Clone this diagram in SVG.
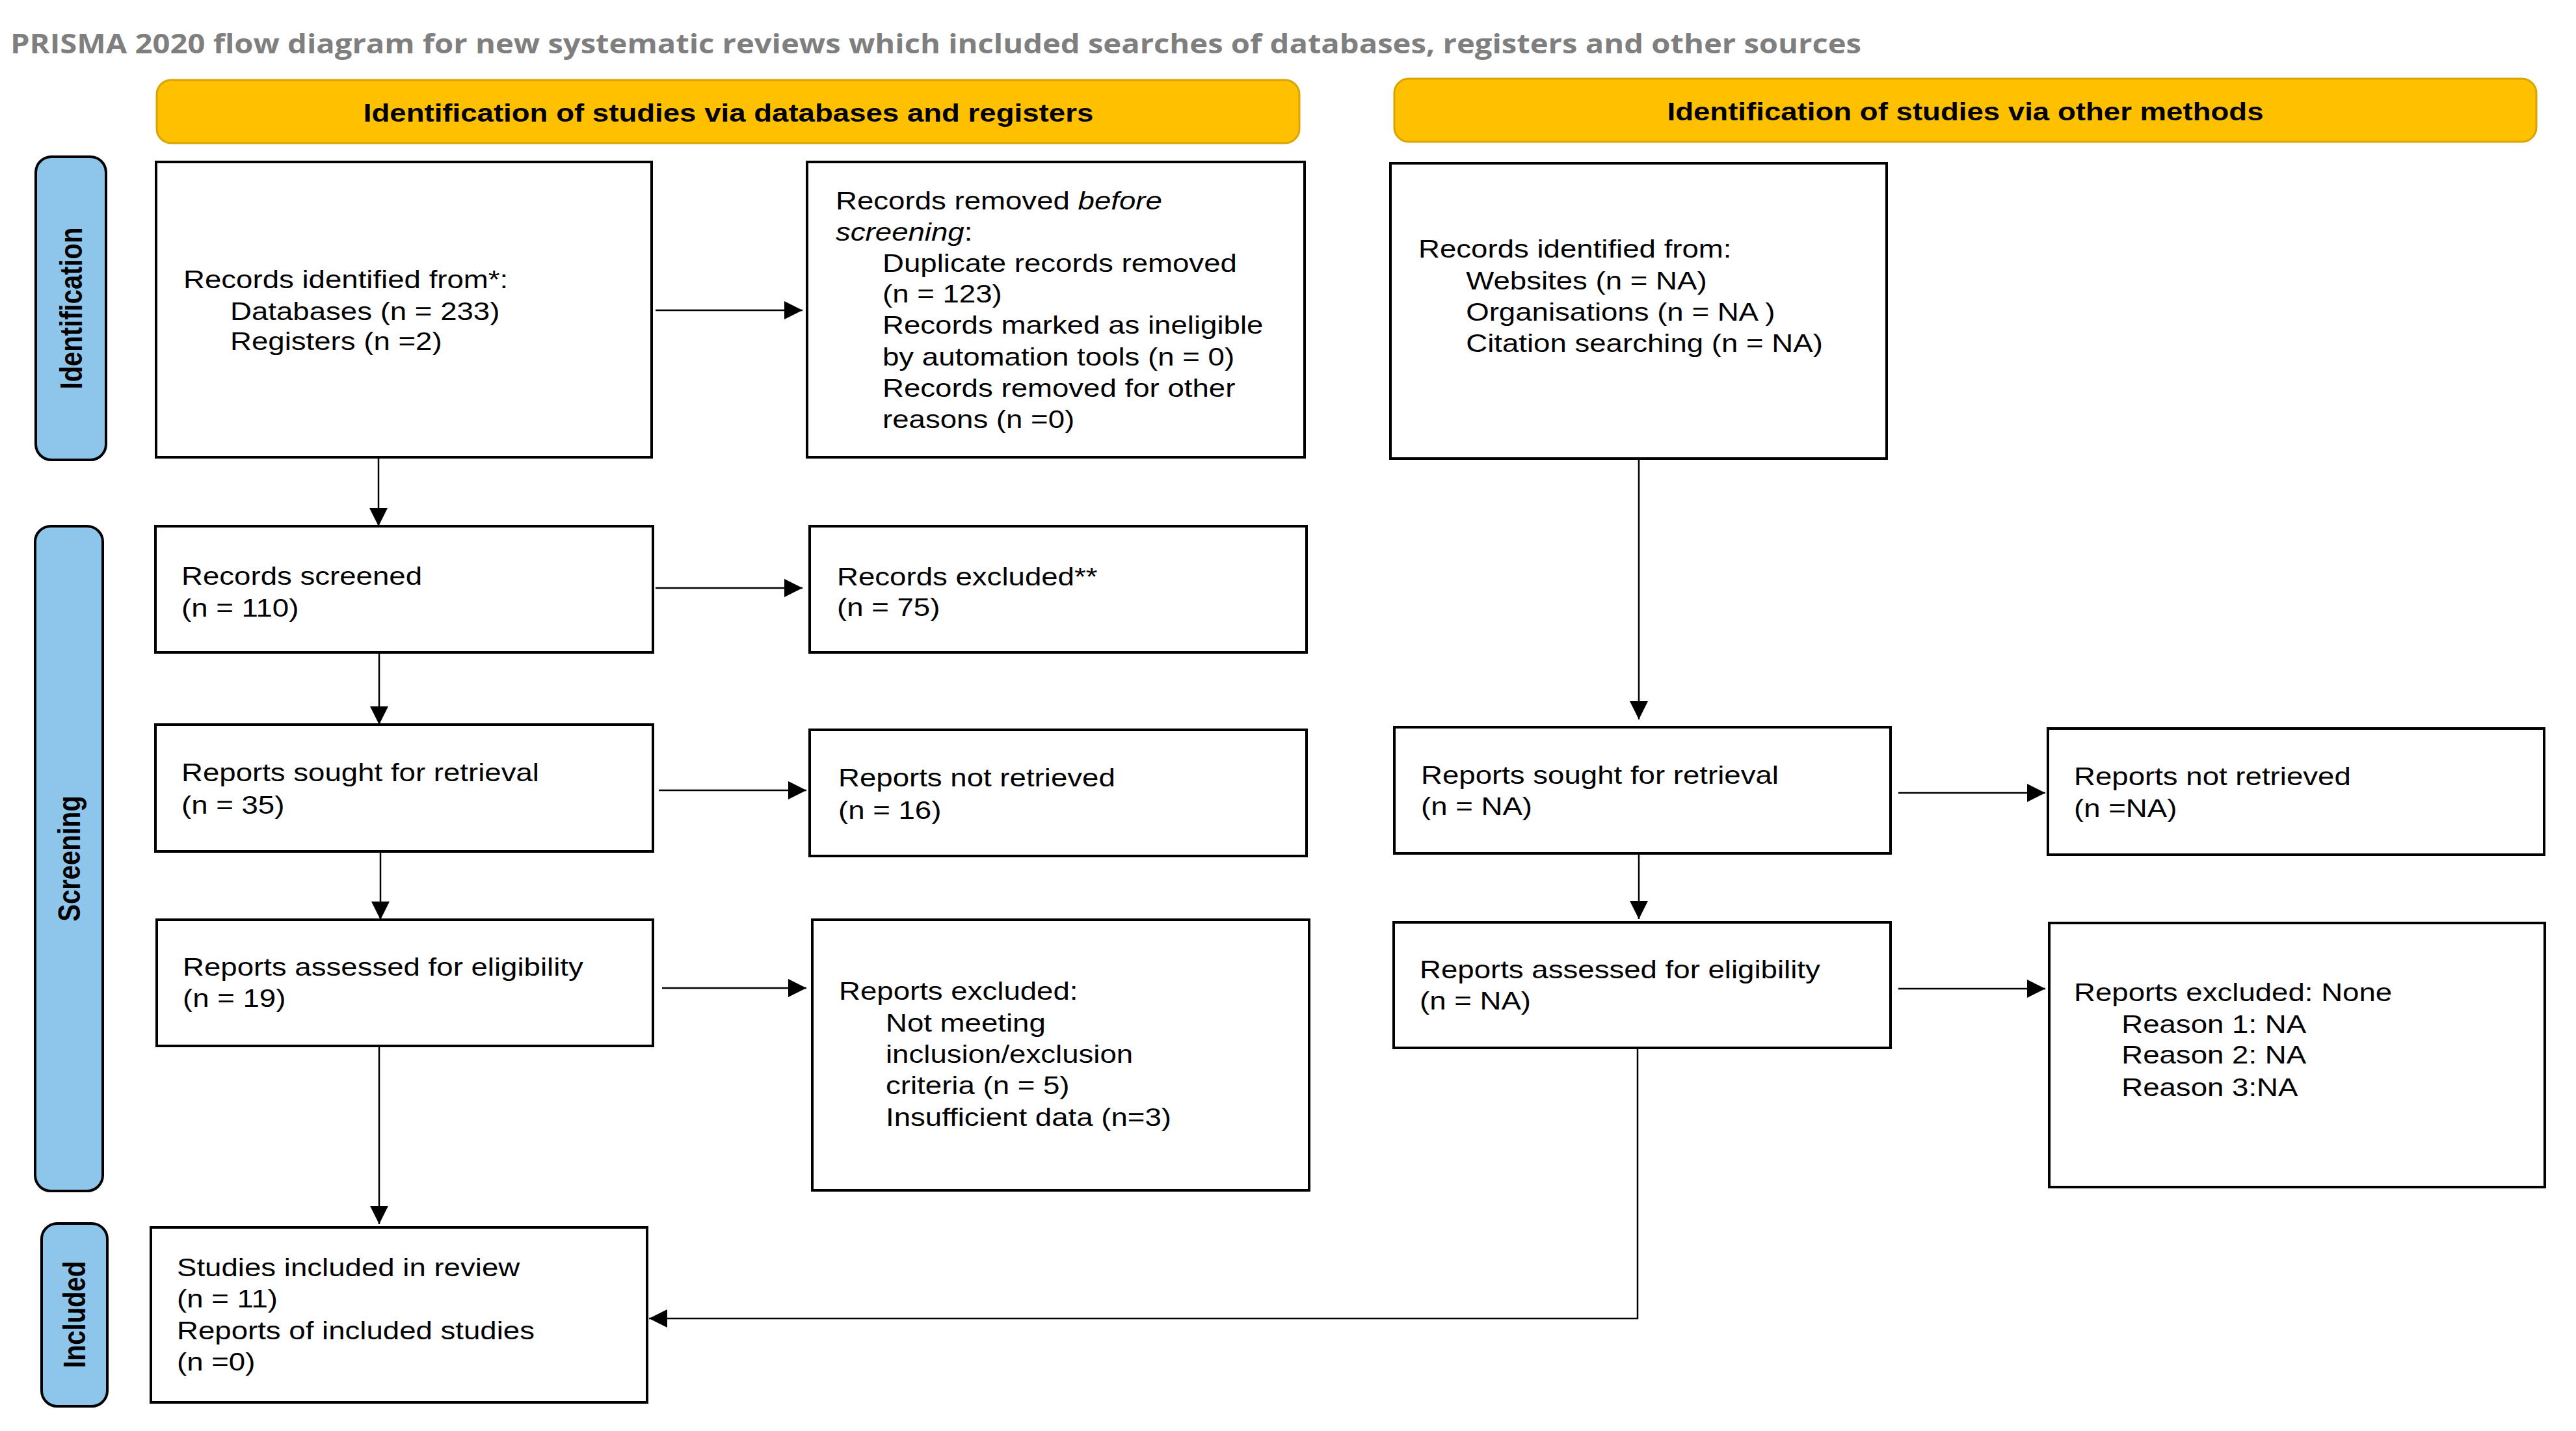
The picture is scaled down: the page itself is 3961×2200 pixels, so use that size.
<svg xmlns="http://www.w3.org/2000/svg" width="3961" height="2200" viewBox="0 0 3961 2200">
<style>
.bg{fill:#fff}
.box{fill:#fff;stroke:#000;stroke-width:4}
.hdr{fill:#FFC000;stroke:#D9A400;stroke-width:3}
.side{fill:#8EC5EB;stroke:#000;stroke-width:4}
.t{font-family:"Liberation Sans",Arial,sans-serif;font-size:38px;fill:#000}
.ht{font-family:"Liberation Sans",Arial,sans-serif;font-size:38px;font-weight:bold;fill:#000}
.st{font-family:"Liberation Sans",Arial,sans-serif;font-size:40px;font-weight:bold;fill:#000}
.title{font-family:"Open Sans","Liberation Sans",sans-serif;font-size:42px;font-weight:bold;fill:#7F7F7F}
.c{fill:none;stroke:#000;stroke-width:2.5}
.ca{fill:none;stroke:#000;stroke-width:2.5;marker-end:url(#ah)}
</style>
<defs>
<marker id="ah" markerUnits="userSpaceOnUse" markerWidth="28" markerHeight="28" refX="28" refY="14" orient="auto">
<path d="M0,0 L28,14 L0,28 z" fill="#000"/>
</marker>
</defs>
<rect class="bg" x="0" y="0" width="3961" height="2200"/>
<text id="title" class="title" x="16" y="82" textLength="2846" lengthAdjust="spacingAndGlyphs">PRISMA 2020 flow diagram for new systematic reviews which included searches of databases, registers and other sources</text>

<g id="header-db">
<rect class="hdr" x="241" y="123" width="1757" height="97" rx="22"/>
<text class="ht" transform="matrix(1.2 0 0 1 1120 187)" x="0" y="0" text-anchor="middle">Identification of studies via databases and registers</text>
</g>
<g id="header-other">
<rect class="hdr" x="2144" y="121" width="1756" height="97" rx="22"/>
<text class="ht" transform="matrix(1.2 0 0 1 3022 185)" x="0" y="0" text-anchor="middle">Identification of studies via other methods</text>
</g>

<g id="side-identification">
<rect class="side" x="55" y="241" width="108" height="466" rx="24"/>
<text class="st" transform="translate(126,474) rotate(-90) scale(1,1.2)" x="0" y="0" text-anchor="middle">Identification</text>
</g>
<g id="side-screening">
<rect class="side" x="54" y="809" width="104" height="1022" rx="24"/>
<text class="st" transform="translate(123,1320) rotate(-90) scale(1,1.2)" x="0" y="0" text-anchor="middle">Screening</text>
</g>
<g id="side-included">
<rect class="side" x="64" y="1881" width="101" height="281" rx="24"/>
<text class="st" transform="translate(131,2021) rotate(-90) scale(1,1.2)" x="0" y="0" text-anchor="middle">Included</text>
</g>

<g id="connectors">
<path class="ca" d="M1008,477 H1234"/>
<path class="ca" d="M582,703 V809"/>
<path class="ca" d="M1008,904 H1234"/>
<path class="ca" d="M583,1003 V1114"/>
<path class="ca" d="M1013,1215 H1240"/>
<path class="ca" d="M585,1309 V1414"/>
<path class="ca" d="M1018,1519 H1240"/>
<path class="ca" d="M583,1608 V1882"/>
<path class="ca" d="M2520,705 V1106"/>
<path class="ca" d="M2919,1219 H3145"/>
<path class="ca" d="M2520,1312 V1413"/>
<path class="ca" d="M2919,1520 H3145"/>
<path class="ca" d="M2518,1611 V2027 H998"/>
</g>

<g id="records-identified-db">
<rect class="box" x="240" y="249" width="762" height="454"/>
<text class="t" transform="matrix(1.2 0 0 1 282 443)"><tspan x="0" y="0">Records identified from*:</tspan><tspan x="60" y="49">Databases (n = 233)</tspan><tspan x="60" y="95">Registers (n =2)</tspan></text>
</g>
<g id="records-removed">
<rect class="box" x="1241" y="249" width="765" height="454"/>
<text class="t" transform="matrix(1.2 0 0 1 1285 322)"><tspan x="0" y="0">Records removed <tspan font-style="italic">before</tspan></tspan><tspan x="0" y="48"><tspan font-style="italic">screening</tspan>:</tspan><tspan x="60" y="96">Duplicate records removed</tspan><tspan x="60" y="143">(n = 123)</tspan><tspan x="60" y="191">Records marked as ineligible</tspan><tspan x="60" y="240">by automation tools (n = 0)</tspan><tspan x="60" y="288">Records removed for other</tspan><tspan x="60" y="336">reasons (n =0)</tspan></text>
</g>
<g id="records-identified-other">
<rect class="box" x="2138" y="251" width="763" height="454"/>
<text class="t" transform="matrix(1.2 0 0 1 2181 396)"><tspan x="0" y="0">Records identified from:</tspan><tspan x="61" y="49">Websites (n = NA)</tspan><tspan x="61" y="97">Organisations (n = NA )</tspan><tspan x="61" y="145">Citation searching (n = NA)</tspan></text>
</g>
<g id="records-screened">
<rect class="box" x="239" y="809" width="765" height="194"/>
<text class="t" transform="matrix(1.2 0 0 1 279 899)"><tspan x="0" y="0">Records screened</tspan><tspan x="0" y="49">(n = 110)</tspan></text>
</g>
<g id="records-excluded">
<rect class="box" x="1245" y="809" width="764" height="194"/>
<text class="t" transform="matrix(1.2 0 0 1 1287 900)"><tspan x="0" y="0">Records excluded**</tspan><tspan x="0" y="47">(n = 75)</tspan></text>
</g>
<g id="reports-sought-db">
<rect class="box" x="239" y="1114" width="765" height="195"/>
<text class="t" transform="matrix(1.2 0 0 1 279 1201)"><tspan x="0" y="0">Reports sought for retrieval</tspan><tspan x="0" y="50">(n = 35)</tspan></text>
</g>
<g id="reports-not-retrieved-db">
<rect class="box" x="1245" y="1122" width="764" height="194"/>
<text class="t" transform="matrix(1.2 0 0 1 1289 1209)"><tspan x="0" y="0">Reports not retrieved</tspan><tspan x="0" y="50">(n = 16)</tspan></text>
</g>
<g id="reports-assessed-db">
<rect class="box" x="241" y="1414" width="763" height="194"/>
<text class="t" transform="matrix(1.2 0 0 1 281 1500)"><tspan x="0" y="0">Reports assessed for eligibility</tspan><tspan x="0" y="48">(n = 19)</tspan></text>
</g>
<g id="reports-excluded-db">
<rect class="box" x="1249" y="1414" width="764" height="416"/>
<text class="t" transform="matrix(1.2 0 0 1 1290 1537)"><tspan x="0" y="0">Reports excluded:</tspan><tspan x="60" y="49">Not meeting</tspan><tspan x="60" y="97">inclusion/exclusion</tspan><tspan x="60" y="145">criteria (n = 5)</tspan><tspan x="60" y="194">Insufficient data (n=3)</tspan></text>
</g>
<g id="studies-included">
<rect class="box" x="232" y="1887" width="763" height="269"/>
<text class="t" transform="matrix(1.2 0 0 1 272 1962)"><tspan x="0" y="0">Studies included in review</tspan><tspan x="0" y="48">(n = 11)</tspan><tspan x="0" y="97">Reports of included studies</tspan><tspan x="0" y="145">(n =0)</tspan></text>
</g>
<g id="reports-sought-other">
<rect class="box" x="2144" y="1118" width="763" height="194"/>
<text class="t" transform="matrix(1.2 0 0 1 2185 1205)"><tspan x="0" y="0">Reports sought for retrieval</tspan><tspan x="0" y="48">(n = NA)</tspan></text>
</g>
<g id="reports-not-retrieved-other">
<rect class="box" x="3149" y="1120" width="763" height="194"/>
<text class="t" transform="matrix(1.2 0 0 1 3189 1207)"><tspan x="0" y="0">Reports not retrieved</tspan><tspan x="0" y="49">(n =NA)</tspan></text>
</g>
<g id="reports-assessed-other">
<rect class="box" x="2143" y="1418" width="764" height="193"/>
<text class="t" transform="matrix(1.2 0 0 1 2183 1504)"><tspan x="0" y="0">Reports assessed for eligibility</tspan><tspan x="0" y="48">(n = NA)</tspan></text>
</g>
<g id="reports-excluded-other">
<rect class="box" x="3151" y="1419" width="762" height="406"/>
<text class="t" transform="matrix(1.2 0 0 1 3189 1539)"><tspan x="0" y="0">Reports excluded: None</tspan><tspan x="61" y="49">Reason 1: NA</tspan><tspan x="61" y="96">Reason 2: NA</tspan><tspan x="61" y="146">Reason 3:NA</tspan></text>
</g>
</svg>
